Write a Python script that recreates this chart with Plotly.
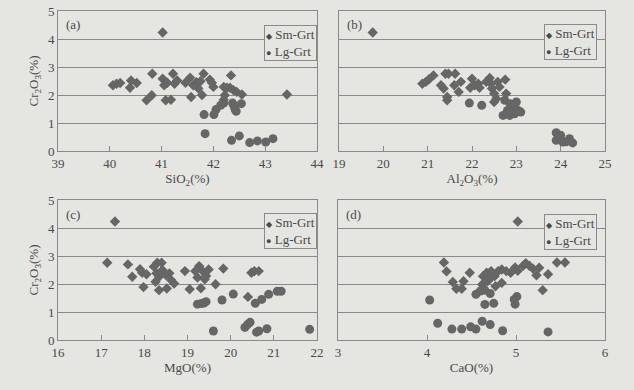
import plotly.graph_objects as go
from plotly.subplots import make_subplots

BG = "#e5e5e2"
INK = "#4a4a4a"
MARK = "#666666"
GRID = "#8a8a8a"
FONT = "Liberation Serif, Times New Roman, serif"

# ── (a) SiO2 vs Cr2O3 ────────────────────────────────────────────────
sm_sio2 = [41.02, 40.06, 40.13, 40.20, 40.41, 40.39, 40.52, 40.82, 40.81, 40.71,
           41.02, 41.05, 41.11, 41.08, 41.18, 41.22, 41.25, 41.30, 41.46, 41.55,
           41.61, 41.67, 41.57, 41.81, 41.75, 41.71, 41.93, 41.97, 42.00, 42.20,
           42.26, 42.34, 42.32, 42.39, 42.45, 42.55, 42.22, 42.20, 43.42, 41.78]
sm_cr_a = [4.23, 2.35, 2.40, 2.43, 2.52, 2.26, 2.43, 2.76, 1.99, 1.81,
           2.58, 2.35, 2.44, 1.81, 1.83, 2.76, 2.40, 2.52, 2.44, 2.62,
           2.35, 2.46, 1.93, 2.76, 2.49, 2.23, 2.55, 2.44, 2.29, 2.29,
           2.26, 2.70, 2.26, 2.17, 2.11, 2.02, 1.99, 1.83, 2.02, 2.00]
lg_sio2 = [41.82, 42.01, 42.05, 42.14, 42.20, 42.37, 42.42, 42.44, 42.54, 42.40,
           41.84, 42.35, 42.50, 42.70, 42.85, 43.01, 43.15]
lg_cr_a = [1.30, 1.30, 1.48, 1.63, 1.71, 1.71, 1.48, 1.42, 1.69, 1.60,
           0.62, 0.38, 0.54, 0.30, 0.36, 0.32, 0.44]

# ── (b) Al2O3 vs Cr2O3 ───────────────────────────────────────────────
sm_al2o3 = [19.76, 20.88, 20.96, 21.03, 21.13, 21.30, 21.36, 21.40, 21.47, 21.62,
            21.44, 21.44, 21.60, 21.75, 21.70, 22.00, 21.96, 22.06, 22.14, 22.17,
            22.32, 22.40, 22.43, 22.45, 22.50, 22.55, 22.50, 22.58, 22.62, 22.75,
            22.77]
sm_cr_b = [4.23, 2.40, 2.47, 2.56, 2.70, 2.35, 2.23, 2.76, 2.76, 2.76,
           1.93, 1.81, 2.35, 2.47, 2.11, 2.58, 2.26, 2.35, 2.40, 2.26,
           2.47, 2.61, 2.40, 2.23, 2.05, 1.87, 1.75, 2.47, 2.29, 2.55,
           2.05]
lg_al2o3 = [21.94, 22.22, 22.74, 22.86, 23.00, 22.89, 23.04, 22.77, 22.70, 22.85,
            22.96, 23.10, 22.80, 22.92, 23.90, 24.00, 23.90, 24.05, 24.20, 24.27,
            24.12, 23.95]
lg_cr_b = [1.71, 1.63, 1.81, 1.69, 1.75, 1.51, 1.45, 1.33, 1.27, 1.27,
           1.33, 1.39, 1.45, 1.60, 0.65, 0.56, 0.38, 0.32, 0.44, 0.29,
           0.33, 0.44]

# ── (c) MgO vs Cr2O3 ─────────────────────────────────────────────────
sm_mgo = [17.32, 17.14, 17.62, 17.72, 17.90, 17.95, 18.05, 17.98, 18.22, 18.30,
          18.40, 18.28, 18.34, 18.26, 18.34, 18.42, 18.50, 18.58, 18.62, 18.52,
          18.69, 18.94, 19.05, 19.18, 19.23, 19.27, 19.31, 19.35, 19.43, 19.49,
          19.40, 19.65, 19.83, 20.40, 20.48, 20.55, 20.65]
sm_cr_c = [4.23, 2.76, 2.70, 2.26, 2.53, 2.40, 2.35, 1.89, 2.62, 2.76,
           2.76, 2.38, 2.26, 2.08, 1.78, 2.50, 2.32, 2.38, 2.14, 1.84,
           2.02, 2.46, 1.81, 2.46, 2.23, 2.64, 1.85, 2.46, 2.29, 2.52,
           2.17, 1.99, 2.55, 1.54, 2.40, 2.46, 2.46]
lg_mgo = [19.23, 19.32, 19.38, 19.43, 19.80, 20.06, 20.57, 20.72, 20.88, 21.08,
          21.17, 19.60, 20.33, 20.39, 20.45, 20.65, 20.84, 21.83, 20.60]
lg_cr_c = [1.28, 1.30, 1.32, 1.37, 1.43, 1.64, 1.31, 1.45, 1.63, 1.74,
           1.74, 0.32, 0.45, 0.55, 0.63, 0.32, 0.40, 0.38, 0.28]

# ── (d) CaO vs Cr2O3 ─────────────────────────────────────────────────
sm_cao = [5.02, 4.19, 4.22, 4.29, 4.33, 4.39, 4.41, 4.48, 4.63, 4.67,
          4.72, 4.76, 4.80, 4.84, 4.89, 4.94, 4.99, 5.02, 5.08, 5.11,
          5.15, 5.19, 5.23, 5.26, 5.36, 5.30, 5.46, 5.55, 4.70, 4.77,
          4.84, 4.62, 4.68]
sm_cr_d = [4.23, 2.77, 2.45, 2.07, 1.83, 1.83, 2.10, 2.40, 2.28, 2.40,
           2.46, 2.28, 2.46, 2.52, 2.46, 2.40, 2.59, 2.47, 2.65, 2.74,
           2.65, 2.55, 2.31, 2.58, 2.35, 1.78, 2.77, 2.77, 2.16, 1.92,
           2.04, 1.98, 2.10]
lg_cao = [4.03, 4.12, 4.28, 4.39, 4.49, 4.55, 4.62, 4.71, 4.85, 5.36,
          4.55, 4.60, 4.65, 4.71, 4.65, 4.75, 4.98, 5.01, 4.99]
lg_cr_d = [1.43, 0.60, 0.39, 0.39, 0.47, 0.39, 0.67, 0.55, 0.33, 0.29,
           1.63, 1.75, 1.78, 1.66, 1.27, 1.31, 1.45, 1.55, 1.28]

PANELS = [
    ("(a)", "SiO<sub>2</sub>(%)", [39, 44], sm_sio2, sm_cr_a, lg_sio2, lg_cr_a),
    ("(b)", "Al<sub>2</sub>O<sub>3</sub>(%)", [19, 25], sm_al2o3, sm_cr_b, lg_al2o3, lg_cr_b),
    ("(c)", "MgO(%)", [16, 22], sm_mgo, sm_cr_c, lg_mgo, lg_cr_c),
    ("(d)", "CaO(%)", [3, 6], sm_cao, sm_cr_d, lg_cao, lg_cr_d),
]

W, H = 634, 390
# plot areas in pixels: (left, right, top, bottom)
BOXES = [(58, 317, 11, 151), (339, 605, 11, 151),
         (58, 317, 200, 340), (338, 605, 200, 340)]
LEGEND_POS = [(317, 25), (597, 24), (317, 213), (597, 214)]

# the key is a bordered text box, as in the printed figure
KEY_TEXT = ("<span style='font-size:8px'>◆</span> Sm-Grt<br>"
            "<span style='font-size:9px'>●</span> Lg-Grt")

fig = make_subplots(rows=2, cols=2)

for i, (tag, xtitle, xr, sx, sy, lx, ly) in enumerate(PANELS):
    row, col = i // 2 + 1, i % 2 + 1
    fig.add_trace(go.Scatter(
        x=sx, y=sy, mode="markers", name="Sm-Grt",
        marker=dict(symbol="diamond", size=8, color=MARK),
    ), row=row, col=col)
    fig.add_trace(go.Scatter(
        x=lx, y=ly, mode="markers", name="Lg-Grt",
        marker=dict(symbol="circle", size=9, color=MARK),
    ), row=row, col=col)

    l, r, t, b = BOXES[i]
    fig.update_xaxes(
        domain=[l / W, r / W], range=xr, dtick=1, ticks="inside", ticklen=5,
        tickcolor=GRID, showgrid=False, zeroline=False, showline=True,
        linecolor=GRID, linewidth=1, mirror=True, automargin=False,
        title=dict(text=xtitle, standoff=4, font=dict(size=13, color=INK)),
        tickfont=dict(size=13, color=INK), row=row, col=col,
    )
    fig.update_yaxes(
        domain=[1 - b / H, 1 - t / H], range=[0, 5], dtick=1, ticks="",
        showgrid=True, gridcolor=GRID, gridwidth=1, zeroline=False,
        showline=True, linecolor=GRID, linewidth=1, mirror=True,
        showticklabels=(col == 1), automargin=False,
        title=dict(text="Cr<sub>2</sub>O<sub>3</sub>(%)" if col == 1 else "",
                   standoff=6, font=dict(size=13, color=INK)),
        tickfont=dict(size=13, color=INK), row=row, col=col,
    )

    fig.add_annotation(
        x=(l + 6) / W, y=1 - (t + 14) / H, xref="paper", yref="paper",
        text=tag, showarrow=False, xanchor="left", yanchor="middle",
        font=dict(size=13, color=INK),
    )

    lxp, lyp = LEGEND_POS[i]
    fig.add_annotation(
        x=lxp / W, y=1 - lyp / H, xref="paper", yref="paper",
        text=KEY_TEXT, showarrow=False, xanchor="right", yanchor="top",
        align="left", bgcolor=BG, bordercolor=GRID, borderwidth=1,
        borderpad=1, font=dict(size=13, color=INK),
    )

fig.update_layout(
    width=W, height=H,
    paper_bgcolor=BG, plot_bgcolor=BG,
    font=dict(family=FONT, color=INK, size=13),
    margin=dict(l=0, r=0, t=0, b=0),
    showlegend=False,
)

fig.write_html(
    "out.html",
    config={"displayModeBar": False},
    post_script="document.body.style.margin='0';"
                "document.body.style.background='%s';" % BG,
)
